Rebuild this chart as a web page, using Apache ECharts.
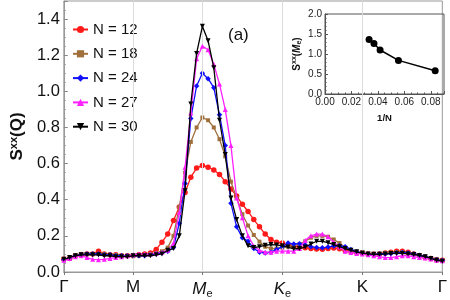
<!DOCTYPE html>
<html><head><meta charset="utf-8">
<script src="https://cdn.jsdelivr.net/npm/echarts@6/dist/echarts.min.js"></script>
<style>html,body{margin:0;padding:0;background:#fff}#c{width:450px;height:300px}</style>
</head><body><div id="c"></div>
<script>
// High-symmetry path
const tickNames = ['Γ', 'M', 'Me', 'Ke', 'K', 'Γ'];
const tickPositions = [0, 1, 2, 3.1547, 4.3094, 5.4641];
const segmentSteps = [12, 12, 14, 14, 14];

const seriesNames = ['N = 12', 'N = 18', 'N = 24', 'N = 27', 'N = 30'];

const sN12 = [0.07, 0.075, 0.09, 0.095, 0.1, 0.1, 0.115, 0.1, 0.095, 0.095, 0.09, 0.09, 0.09,
  0.095, 0.1, 0.105, 0.125, 0.165, 0.21, 0.285, 0.36, 0.44, 0.525, 0.575, 0.59,
  0.58, 0.565, 0.54, 0.5, 0.46, 0.42, 0.375, 0.335, 0.29, 0.25, 0.21, 0.18, 0.165, 0.16,
  0.15, 0.143, 0.138, 0.134, 0.13, 0.127, 0.126, 0.13, 0.133, 0.128, 0.118, 0.112, 0.108, 0.105,
  0.1, 0.098, 0.1, 0.105, 0.11, 0.115, 0.115, 0.11, 0.1, 0.09, 0.08, 0.075, 0.068, 0.065];
const sN18 = [0.07, 0.08, 0.09, 0.1, 0.1, 0.1, 0.1, 0.1, 0.095, 0.095, 0.09, 0.09, 0.09,
  0.09, 0.095, 0.1, 0.105, 0.115, 0.135, 0.2, 0.36, 0.55, 0.72, 0.8, 0.855,
  0.84, 0.8, 0.735, 0.64, 0.5, 0.41, 0.32, 0.257, 0.205, 0.168, 0.14, 0.13, 0.13, 0.135,
  0.14, 0.145, 0.155, 0.17, 0.19, 0.2, 0.2, 0.195, 0.18, 0.16, 0.135, 0.12, 0.11, 0.105,
  0.1, 0.1, 0.1, 0.105, 0.108, 0.11, 0.11, 0.105, 0.1, 0.092, 0.085, 0.075, 0.068, 0.063];
const sN24 = [0.068, 0.078, 0.09, 0.095, 0.1, 0.1, 0.1, 0.095, 0.095, 0.09, 0.09, 0.09, 0.09,
  0.09, 0.09, 0.095, 0.1, 0.105, 0.115, 0.135, 0.27, 0.49, 0.85, 1.03, 1.1,
  1.07, 1.02, 0.87, 0.7, 0.38, 0.25, 0.19, 0.17, 0.13, 0.11, 0.105, 0.11, 0.125, 0.14,
  0.16, 0.155, 0.157, 0.15, 0.14, 0.135, 0.134, 0.138, 0.144, 0.145, 0.14, 0.125, 0.112, 0.105,
  0.1, 0.095, 0.1, 0.1, 0.103, 0.106, 0.108, 0.105, 0.1, 0.093, 0.085, 0.075, 0.068, 0.063];
const sN27 = [0.065, 0.075, 0.085, 0.09, 0.08, 0.07, 0.068, 0.07, 0.075, 0.08, 0.085, 0.09, 0.095,
  0.1, 0.1, 0.1, 0.105, 0.11, 0.12, 0.16, 0.33, 0.58, 0.88, 1.18, 1.25,
  1.23, 1.15, 1.04, 0.9, 0.7, 0.41, 0.3, 0.2, 0.144, 0.12, 0.11, 0.11, 0.115, 0.116,
  0.115, 0.115, 0.13, 0.175, 0.2, 0.21, 0.21, 0.195, 0.165, 0.14, 0.115, 0.108, 0.103, 0.1,
  0.095, 0.09, 0.085, 0.08, 0.08, 0.085, 0.09, 0.09, 0.085, 0.08, 0.078, 0.072, 0.065, 0.062];
const sN30 = [0.07, 0.08, 0.09, 0.095, 0.095, 0.095, 0.095, 0.09, 0.09, 0.085, 0.085, 0.085, 0.09,
  0.09, 0.09, 0.09, 0.095, 0.1, 0.12, 0.13, 0.2, 0.45, 0.93, 1.21, 1.36,
  1.28, 1.13, 0.84, 0.65, 0.41, 0.29, 0.2, 0.145, 0.135, 0.14, 0.148, 0.152, 0.15, 0.145,
  0.138, 0.128, 0.13, 0.138, 0.155, 0.17, 0.17, 0.162, 0.152, 0.14, 0.13, 0.12, 0.112, 0.105,
  0.1, 0.098, 0.098, 0.1, 0.102, 0.103, 0.103, 0.1, 0.097, 0.092, 0.085, 0.075, 0.065, 0.06];

const yTicks = [0, 0.2, 0.4, 0.6, 0.8, 1.0, 1.2, 1.4];

// Inset: S^xx(Me) vs 1/N
const insetN = [30, 27, 24, 18, 12];
const insetS = [1.36, 1.26, 1.10, 0.84, 0.58];

// k-path sample grid
const kPath = [tickPositions[0]];
for (let i = 0; i < segmentSteps.length; i++) {
  const a = tickPositions[i], b = tickPositions[i + 1], n = segmentSteps[i];
  for (let j = 1; j <= n; j++) kPath.push(a + (b - a) * j / n);
}
const allValues = [sN12, sN18, sN24, sN27, sN30];
const colors = ['#ff1a1a', '#a0703c', '#1010ff', '#ff20ff', '#000000'];
const symbols = ['circle', 'rect', 'diamond', 'triangle', 'path://M0,0 L10,0 L5,10 Z'];
const symSizes = [5.5, 4, 5.5, 5, 5];

const FONT = 'Liberation Sans, Arial, sans-serif';
const labelFor = v => {
  let best = 0;
  tickPositions.forEach((t, i) => { if (Math.abs(t - v) < Math.abs(tickPositions[best] - v)) best = i; });
  const n = tickNames[best];
  if (n === 'Me') return '{it|M}{sub|e}';
  if (n === 'Ke') return '{it|K}{sub|e}';
  return n;
};

const series = [];
series.push({
  type: 'line', data: [], xAxisIndex: 0, yAxisIndex: 0, z: 1, silent: true,
  markLine: {
    silent: true, symbol: ['none', 'none'], label: { show: false },
    lineStyle: { color: '#dcdcdc', width: 1, type: 'solid' },
    data: tickPositions.slice(1, -1).map(t => ({ xAxis: t }))
  }
});
allValues.forEach((vals, si) => {
  series.push({
    name: seriesNames[si], type: 'line', xAxisIndex: 0, yAxisIndex: 0, z: 2 + si,
    data: vals.map((v, i) => [kPath[i], v]),
    symbol: symbols[si], symbolSize: symSizes[si], showAllSymbol: true,
    itemStyle: { color: colors[si] },
    lineStyle: { color: colors[si], width: 1.3 },
    animation: false
  });
});
series.push({
  type: 'line', xAxisIndex: 1, yAxisIndex: 1, z: 10,
  data: insetN.map((n, i) => [1 / n, insetS[i]]),
  symbol: 'circle', symbolSize: 7,
  itemStyle: { color: '#000' }, lineStyle: { color: '#000', width: 1.5 },
  animation: false
});

const chart = echarts.init(document.getElementById('c'), null, { renderer: 'canvas' });
chart.setOption({
  animation: false,
  backgroundColor: '#fff',
  textStyle: { fontFamily: FONT },
  grid: [
    { left: 53, right: 4, top: 1, bottom: 28, show: true, borderColor: '#999', borderWidth: 1, backgroundColor: 'transparent' },
    { left: 325, right: 6, top: 14, height: 80, show: true, borderColor: '#555', borderWidth: 1, backgroundColor: 'transparent', z: 5 }
  ],
  legend: {
    orient: 'vertical', left: 67, top: 16, itemGap: 7.3, itemWidth: 15, itemHeight: 9,
    data: seriesNames,
    textStyle: { fontSize: 15, color: '#111', fontFamily: FONT, lineHeight: 17 }
  },
  xAxis: [
    {
      type: 'value', gridIndex: 0, min: 0, max: tickPositions[tickPositions.length - 1],
      axisLine: { show: true, lineStyle: { color: '#999' } },
      axisTick: { show: true, customValues: tickPositions, length: 3, lineStyle: { color: '#777' } },
      splitLine: { show: false },
      axisLabel: {
        customValues: tickPositions, formatter: labelFor, margin: 7,
        fontSize: 17, color: '#111', fontFamily: FONT,
        rich: {
          it: { fontSize: 17, fontStyle: 'italic', color: '#111', fontFamily: FONT },
          sub: { fontSize: 11, color: '#111', fontFamily: FONT, padding: [9, 0, 0, 0] }
        }
      }
    },
    {
      type: 'value', gridIndex: 1, min: 0, max: 0.09, interval: 0.02,
      axisLine: { show: true, lineStyle: { color: '#555' } },
      axisTick: { show: true, inside: true, length: 3, lineStyle: { color: '#555' } },
      minorTick: { show: true, splitNumber: 4, length: 1.5, lineStyle: { color: '#555' } },
      splitLine: { show: false },
      axisLabel: { formatter: v => v.toFixed(2), fontSize: 10, color: '#222', margin: 3, showMaxLabel: false },
      name: '1/N', nameLocation: 'middle', nameGap: 19,
      nameTextStyle: { fontSize: 9.5, fontWeight: 'bold', color: '#111' }
    }
  ],
  yAxis: [
    {
      type: 'value', gridIndex: 0, min: 0, max: 1.5, interval: 0.2,
      axisLine: { show: true, lineStyle: { color: '#999' } },
      axisTick: { show: true, inside: true, length: 4, lineStyle: { color: '#888' } },
      minorTick: { show: true, splitNumber: 4, length: 2, lineStyle: { color: '#999' } },
      splitLine: { show: false },
      axisLabel: {
        formatter: v => yTicks.some(t => Math.abs(t - v) < 1e-6) ? v.toFixed(1) : '',
        fontSize: 16.5, color: '#111', margin: 4, showMaxLabel: false
      },
      name: '{b|S}{sup|xx}{b|(Q)}', nameLocation: 'middle', nameGap: 32, nameRotate: 90,
      nameTextStyle: {
        rich: {
          b: { fontSize: 17, fontWeight: 'bold', color: '#111', fontFamily: FONT },
          sup: { fontSize: 11, fontWeight: 'bold', color: '#111', fontFamily: FONT, padding: [0, 0, 8, 0] }
        }
      }
    },
    {
      type: 'value', gridIndex: 1, min: 0, max: 2, interval: 0.5,
      axisLine: { show: true, lineStyle: { color: '#555' } },
      axisTick: { show: true, inside: true, length: 3, lineStyle: { color: '#555' } },
      minorTick: { show: true, splitNumber: 5, length: 1.5, lineStyle: { color: '#555' } },
      splitLine: { show: false },
      axisLabel: { formatter: v => v.toFixed(1), fontSize: 10, color: '#222', margin: 3 },
      name: '{b|S}{sup|xx}{b|(}{it|M}{sub|e}{b|)}', nameLocation: 'middle', nameGap: 22, nameRotate: 90,
      nameTextStyle: {
        rich: {
          b: { fontSize: 10, fontWeight: 'bold', color: '#111', fontFamily: FONT },
          it: { fontSize: 10, fontWeight: 'bold', fontStyle: 'italic', color: '#111', fontFamily: FONT },
          sup: { fontSize: 7, fontWeight: 'bold', color: '#111', fontFamily: FONT, padding: [0, 0, 5, 0] },
          sub: { fontSize: 7, fontWeight: 'bold', color: '#111', fontFamily: FONT, padding: [5, 0, 0, 0] }
        }
      }
    }
  ],
  graphic: [
    { type: 'text', left: 228, top: 27, style: { text: '(a)', fontSize: 17, fill: '#111', fontFamily: FONT } }
  ],
  series: series
});
</script>
</body></html>
